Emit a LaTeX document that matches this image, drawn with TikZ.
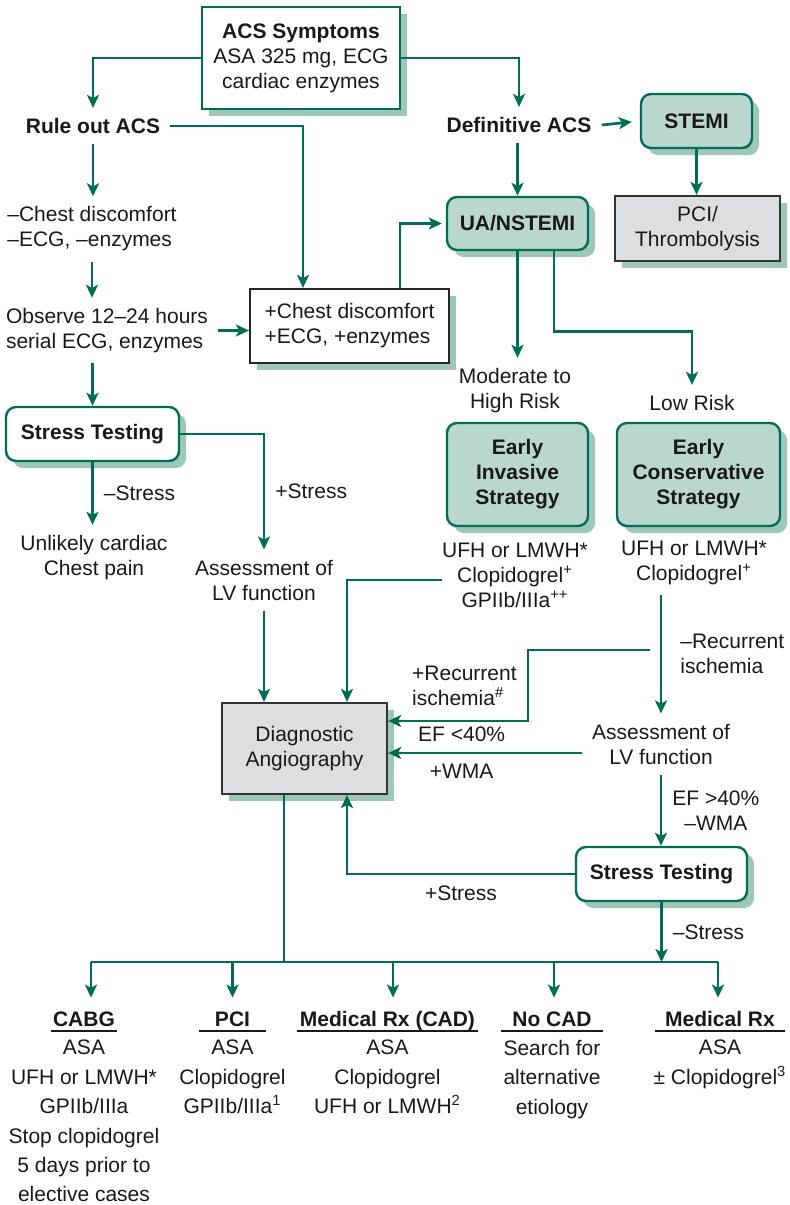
\documentclass[tikz,border=0pt]{standalone}
\usepackage{fontspec}
\setmainfont{Liberation Sans}
\usepackage{xcolor}
\usepackage{tikz}
\usetikzlibrary{arrows.meta,shadows,positioning}
\tikzset{>={Stealth[length=6.5pt,width=6pt,inset=1.6pt]}}

\definecolor{acsgreen}{RGB}{0,110,82}
\definecolor{acsteal}{RGB}{186,215,205}
\definecolor{acsshade}{RGB}{158,199,184}
\definecolor{acsgray}{RGB}{221,222,224}
\newcommand{\acsfont}{\fontsize{10.5}{12.5}\selectfont}

\begin{document}
\begin{tikzpicture}[x=0.5pt, y=-0.5pt, font=\acsfont, text=black!90,
                          flow/.style={acsgreen, line width=1.35pt, ->},
                          link/.style={acsgreen, line width=1.35pt},
                          boxshadow/.style={drop shadow={shadow xshift=3.5pt, shadow yshift=-3.5pt, fill=acsshade, opacity=1}},
                          txt/.style={align=center, inner sep=5pt},
                          boldtxt/.style={txt, font=\acsfont\bfseries},
                          lab/.style={inner sep=5pt, text=black!90},
                          plainbox/.style={draw=acsgreen, line width=1.1pt, fill=white, align=center, inner sep=2pt, boxshadow},
                          roundbox/.style={draw=acsgreen, line width=1.2pt, rounded corners=5pt, fill=white, align=center, font=\acsfont\bfseries, boxshadow},
                          tealbox/.style={roundbox, fill=acsteal},
                          graybox/.style={draw=black!80, line width=1.1pt, fill=acsgray, align=center, boxshadow},
                          chestbox/.style={draw=black!85, line width=1.1pt, fill=white, align=left, boxshadow},
                          drugs/.style={align=center, inner xsep=0pt, inner ysep=5pt},
                          headline/.style={font=\acsfont\bfseries, text height=7.6pt, text depth=2.2pt, inner xsep=0pt, inner ysep=0pt, anchor=base},
                          druglist/.style={align=center, inner sep=0pt, font=\fontsize{10.5}{14.7}\selectfont},
                         ]

\useasboundingbox (0,0) rectangle (789,1205);

\node[plainbox, minimum width=99pt, minimum height=51pt] (acs) at (301,58) {\textbf{ACS Symptoms}\\ASA 325 mg, ECG\\cardiac enzymes};
\node[boldtxt] (ruleout) at (93,126) {Rule out ACS};
\node[boldtxt] (defacs) at (519,125) {Definitive ACS};
\node[tealbox, minimum width=55.5pt, minimum height=27pt] (stemi) at (696.5,121) {STEMI};
\node[graybox, minimum width=82.5pt, minimum height=32.5pt] (pcithr) at (697.5,228.5) {PCI/\\Thrombolysis};
\node[tealbox, minimum width=70.5pt, minimum height=26.5pt] (ua) at (517.5,223.5) {UA/NSTEMI};

\node[txt, align=left] (neg) at (92,229) {–Chest discomfort\\–ECG, –enzymes};
\node[txt, align=left] (observe) at (107,330.5) {Observe 12–24 hours\\serial ECG, enzymes};
\node[chestbox, minimum width=99.5pt, minimum height=37pt] (chest) at (349.5,326) {+Chest discomfort\\+ECG, +enzymes};
\node[roundbox, minimum width=86.5pt, minimum height=27pt] (stressA) at (92.5,434) {Stress Testing};
\node[txt] (unlikely) at (94,557.5) {Unlikely cardiac\\Chest pain};
\node[txt] (assessA) at (264,580) {Assessment of\\LV function};

\node[txt] (modrisk) at (515,390.5) {Moderate to\\High Risk};
\node[txt] (lowrisk) at (692,403) {Low Risk};
\node[tealbox, minimum width=70.5pt, minimum height=51.5pt] (invasive) at (517.5,474.5) {Early\\Invasive\\Strategy};
\node[tealbox, minimum width=81.5pt, minimum height=51.5pt] (conserv) at (698.5,474.5) {Early\\Conservative\\Strategy};
\node[drugs] (invdrugs) at (515,575) {UFH or LMWH*\\Clopidogrel\textsuperscript{+}\\GPIIb/IIIa\textsuperscript{++}};
\node[drugs] (consdrugs) at (694,562.5) {UFH or LMWH*\\Clopidogrel\textsuperscript{+}};
\node[txt] (assessB) at (661,744) {Assessment of\\LV function};
\node[graybox, minimum width=82.5pt, minimum height=45.5pt] (diag) at (304.5,748.5) {Diagnostic\\Angiography};
\node[roundbox, minimum width=85.5pt, minimum height=27pt] (stressB) at (661.5,874) {Stress Testing};

\node[headline, minimum width=33pt] (cabg) at (84,1026) {CABG};
\node[headline, minimum width=33.5pt] (pci) at (232.5,1026) {PCI};
\node[headline, minimum width=90.5pt] (medcad) at (387.5,1026) {Medical Rx (CAD)};
\node[headline, minimum width=51pt] (nocad) at (552,1026) {No CAD};
\node[headline, minimum width=65pt] (medrx) at (720,1026) {Medical Rx};

\node[druglist, below=4.5pt of cabg] (cabglist) {ASA\\UFH or LMWH*\\GPIIb/IIIa\\Stop clopidogrel\\5 days prior to\\elective cases};
\node[druglist, below=4.5pt of pci] (pcilist) {ASA\\Clopidogrel\\GPIIb/IIIa\textsuperscript{1}};
\node[druglist, below=4.5pt of medcad] (medcadlist) {ASA\\Clopidogrel\\UFH or LMWH\textsuperscript{2}};
\node[druglist, below=4.5pt of nocad] (nocadlist) {Search for\\alternative\\etiology};
\node[druglist, below=4.5pt of medrx] (medrxlist) {ASA\\± Clopidogrel\textsuperscript{3}};

\draw[flow] (acs.west) -| (ruleout.north);
\draw[flow] (acs.east) -| (defacs.north);
\draw[flow] (ruleout.east) -| ([xshift=-23.25pt]chest.north);
\draw[flow, shorten >=4pt] (defacs.east) -- (stemi.west);
\draw[flow] (ua.north |- defacs.south) -- (ua.north);
\draw[flow] (stemi.south) -- (stemi.south |- pcithr.north);
\draw[flow, shorten >=2pt] ([xshift=25.25pt]chest.north) |- (ua.west);

\draw[flow] (ruleout.south) -- (ruleout.south |- neg.north);
\draw[flow] (neg.south) -- (neg.south |- observe.north);
\draw[flow] (observe.east) -- (observe.east -| chest.west);
\draw[flow] (stressA.north |- observe.south) -- (stressA.north);
\draw[flow] (stressA.south) -- (stressA.south |- unlikely.north) node[lab, midway, right] {–Stress};
\draw[flow] (stressA.east) -| (assessA.north) node[lab, pos=0.75, right] {+Stress};
\draw[flow] (assessA.south) -- (assessA.south |- diag.north);

\draw[flow] (ua.south) -- (ua.south |- modrisk.north);
\draw[flow] ([xshift=18.25pt]ua.south) -- ++(0,80) -| (lowrisk.north);
\draw[flow] ([yshift=-2.5pt]invdrugs.west) -| ([xshift=21.25pt]diag.north);
\draw[flow] (assessB.north |- consdrugs.south) -- (assessB.north) node[lab, midway, right, align=left, xshift=4pt] {–Recurrent\\ischemia};
\coordinate (recur) at (650,650);
\draw[flow] (recur) -- ++(-122,0) |- ([yshift=13.75pt]diag.east) node[lab, pos=0.25, left, align=left] {+Recurrent\\ischemia\textsuperscript{\#}};
\draw[flow] ([yshift=-2.25pt]diag.east -| assessB.west) -- ([yshift=-2.25pt]diag.east) node[lab, pos=0.62, above] {EF <40\%} node[lab, pos=0.62, below] {+WMA};
\draw[flow] (assessB.south) -- (assessB.south |- stressB.north) node[lab, midway, right, align=center] {EF >40\%\\–WMA};
\draw[flow] (stressB.west) -| ([xshift=21.25pt]diag.south) node[lab, pos=0.25, below] {+Stress};

\draw[link] ([xshift=-10.25pt]diag.south) -- ++(0,167) coordinate (bus);
\draw[flow] (stressB.south) -- (stressB.south |- bus) node[lab, midway, right] {–Stress};
\draw[link] ([xshift=3.5pt]cabg.north |- bus) -- ([xshift=-1pt]medrx.north |- bus);
\foreach \h/\dx in {cabg/3.5,pci/0,medcad/2.75,nocad/1,medrx/-1}{
  \draw[flow, shorten >=6.4pt] ([xshift=\dx pt]\h.north |- bus) -- ([xshift=\dx pt]\h.north);
  \draw[black!90, line width=0.75pt] (\h.south west) -- (\h.south east);
}

\end{tikzpicture}
\end{document}
